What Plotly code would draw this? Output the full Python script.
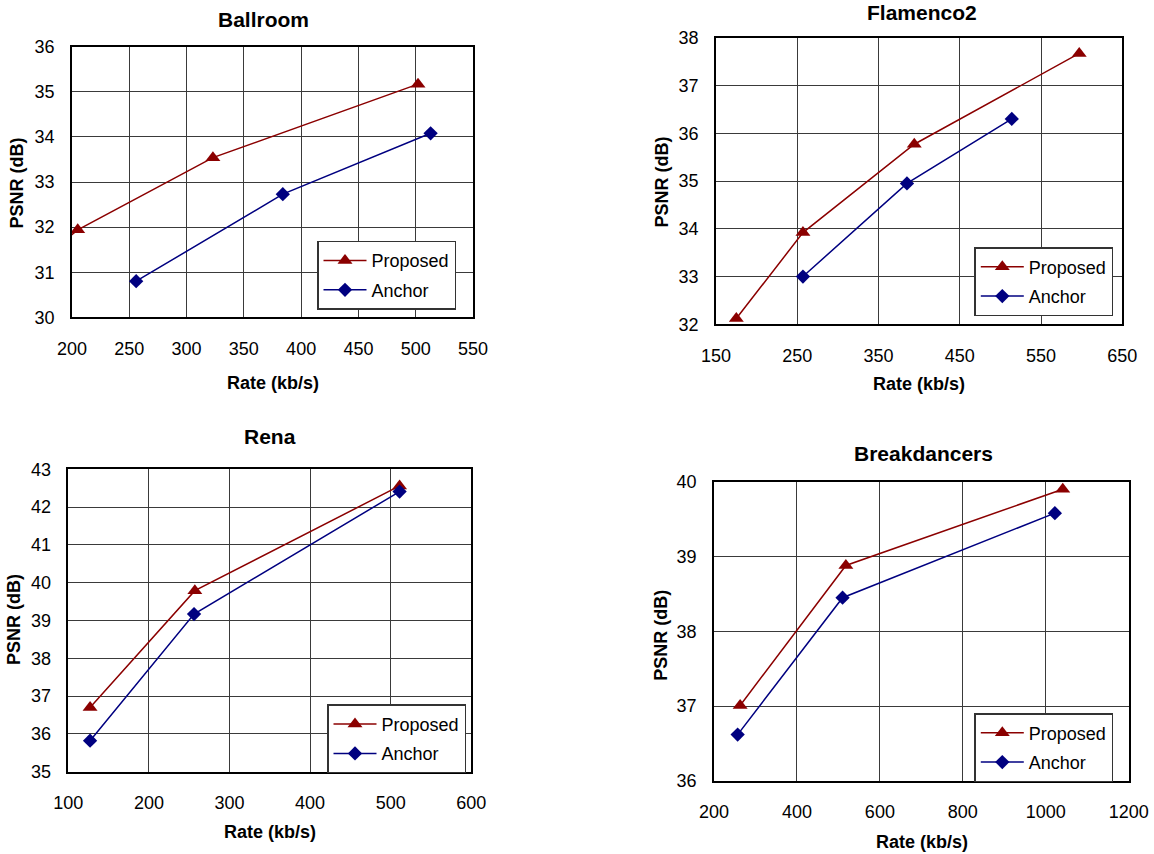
import plotly.graph_objects as go

# ---------------- data ----------------
ballroom_proposed_rate = [130, 205, 323, 502]
ballroom_proposed_psnr = [30.38, 31.94, 33.54, 35.17]
ballroom_anchor_rate = [256, 384, 513]
ballroom_anchor_psnr = [30.80, 32.73, 34.08]

flamenco_proposed_rate = [175, 257, 394, 597]
flamenco_proposed_psnr = [32.12, 33.92, 35.77, 37.67]
flamenco_anchor_rate = [257, 385, 514]
flamenco_anchor_psnr = [33.00, 34.95, 36.30]

rena_proposed_rate = [127, 257, 511]
rena_proposed_psnr = [36.70, 39.79, 42.56]
rena_anchor_rate = [127, 256, 511]
rena_anchor_psnr = [35.82, 39.17, 42.41]

break_proposed_rate = [263, 518, 1041]
break_proposed_psnr = [37.01, 38.88, 39.90]
break_anchor_rate = [257, 510, 1022]
break_anchor_psnr = [36.62, 38.45, 39.58]

titles = ["Ballroom", "Flamenco2", "Rena", "Breakdancers"]
series_names = ["Proposed", "Anchor"]
x_title = "Rate (kb/s)"
y_title = "PSNR (dB)"

# ---------------- layout constants ----------------
W, H = 1154, 854
FONT = "Arial, 'Liberation Sans', sans-serif"
RED = "#8b0000"
BLUE = "#000080"

panels = [
    dict(title=titles[0], box=(72, 473, 46.7, 317.3), xr=[200, 550], xd=50, yr=[30, 36], yd=1,
         legend=(317, 240.7), tpos=(263.3, 19), xtpos=(273.3, 382.7), ytpos=(16.7, 182.7),
         data=(ballroom_proposed_rate, ballroom_proposed_psnr, ballroom_anchor_rate, ballroom_anchor_psnr)),
    dict(title=titles[1], box=(716, 1122.3, 37.7, 324.3), xr=[150, 650], xd=100, yr=[32, 38], yd=1,
         legend=(974.3, 247), tpos=(921.7, 12), xtpos=(919.3, 384), ytpos=(661.7, 181.7),
         data=(flamenco_proposed_rate, flamenco_proposed_psnr, flamenco_anchor_rate, flamenco_anchor_psnr)),
    dict(title=titles[2], box=(68.3, 471.3, 469.3, 771.7), xr=[100, 600], xd=100, yr=[35, 43], yd=1,
         legend=(327, 704.3), tpos=(270, 436.7), xtpos=(270, 832.3), ytpos=(14, 620),
         data=(rena_proposed_rate, rena_proposed_psnr, rena_anchor_rate, rena_anchor_psnr)),
    dict(title=titles[3], box=(714, 1128.7, 481.7, 781), xr=[200, 1200], xd=200, yr=[36, 40], yd=1,
         legend=(974.3, 713), tpos=(923.3, 453.3), xtpos=(921.7, 842.3), ytpos=(660.7, 635),
         data=(break_proposed_rate, break_proposed_psnr, break_anchor_rate, break_anchor_psnr)),
]


def px_x(v):
    return v / W


def px_y(v):
    return 1 - v / H


fig = go.Figure()
layout = dict(
    width=W, height=H, margin=dict(l=0, r=0, t=0, b=0, autoexpand=False),
    paper_bgcolor="white", plot_bgcolor="white",
    font=dict(family=FONT, size=18, color="black"),
    annotations=[],
)

for i, p in enumerate(panels):
    n = "" if i == 0 else str(i + 1)
    xa, ya = "x" + n, "y" + n
    leg = "legend" + n
    x0, x1, y0, y1 = p["box"]
    pr, pp, ar, ap = p["data"]
    fig.add_trace(go.Scatter(
        x=pr, y=pp, name=series_names[0], mode="lines+markers",
        line=dict(color=RED, width=1.5),
        marker=dict(symbol="triangle-up", size=13, color=RED),
        xaxis=xa, yaxis=ya, legend=leg, legendgroup="p" + n, cliponaxis=True))
    fig.add_trace(go.Scatter(
        x=ar, y=ap, name=series_names[1], mode="lines+markers",
        line=dict(color=BLUE, width=1.5),
        marker=dict(symbol="diamond", size=11, color=BLUE),
        xaxis=xa, yaxis=ya, legend=leg, legendgroup="a" + n, cliponaxis=True))

    axis_common = dict(showgrid=True, gridcolor="#3a3a3a", gridwidth=1,
                       showline=True, mirror=True, linecolor="black", linewidth=1.5,
                       zeroline=False, ticks="", tickfont=dict(size=18, family=FONT),
                       fixedrange=True, automargin=False)
    layout["xaxis" + n] = dict(axis_common, domain=[px_x(x0), px_x(x1)], range=p["xr"],
                               dtick=p["xd"], tick0=p["xr"][0], anchor=ya,
                               ticklabelstandoff=14)
    layout["yaxis" + n] = dict(axis_common, domain=[px_y(y1), px_y(y0)], range=p["yr"],
                               dtick=p["yd"], tick0=p["yr"][0], anchor=xa,
                               ticklabelstandoff=12)
    lx, ly = p["legend"]
    layout[leg] = dict(x=px_x(lx), y=px_y(ly), xanchor="left", yanchor="top",
                       xref="paper", yref="paper",
                       bgcolor="white", bordercolor="#333333", borderwidth=1.5,
                       font=dict(size=18, family=FONT), itemwidth=43, tracegroupgap=3)

    tx, ty = p["tpos"]
    layout["annotations"].append(dict(text="<b>%s</b>" % p["title"], x=px_x(tx), y=px_y(ty),
                                      xref="paper", yref="paper", showarrow=False,
                                      xanchor="center", yanchor="middle",
                                      font=dict(size=21, family=FONT)))
    xx, xy = p["xtpos"]
    layout["annotations"].append(dict(text="<b>%s</b>" % x_title, x=px_x(xx), y=px_y(xy),
                                      xref="paper", yref="paper", showarrow=False,
                                      xanchor="center", yanchor="middle",
                                      font=dict(size=18, family=FONT)))
    yx, yy = p["ytpos"]
    layout["annotations"].append(dict(text="<b>%s</b>" % y_title, x=px_x(yx), y=px_y(yy),
                                      xref="paper", yref="paper", showarrow=False,
                                      xanchor="center", yanchor="middle", textangle=-90,
                                      font=dict(size=18, family=FONT)))

fig.update_layout(**layout)
fig.write_html("out.html", post_script="document.body.style.margin='0';",
               config={"displayModeBar": False})
